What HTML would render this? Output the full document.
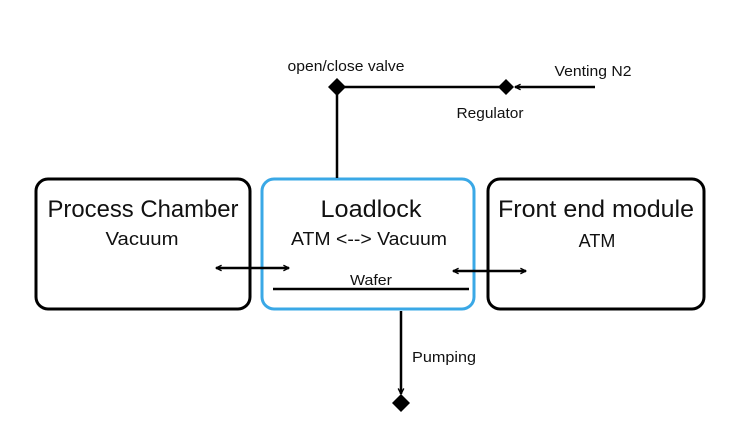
<!DOCTYPE html>
<html><head><style>body{margin:0;background:#fff}svg{display:block}text{font-family:"Liberation Sans",sans-serif;fill:#111}</style></head>
<body>
<svg width="740" height="428" viewBox="0 0 740 428" xmlns="http://www.w3.org/2000/svg">
<defs>
<marker id="a" viewBox="0 0 10 10" refX="9" refY="5" markerWidth="7" markerHeight="7" orient="auto-start-reverse" markerUnits="userSpaceOnUse">
<path d="M1,1 L9,5 L1,9" fill="none" stroke="#000" stroke-width="2"/></marker>
</defs>
<g fill="none" stroke-width="3">
<rect x="36" y="179" width="214" height="130" rx="12" stroke="#000"/>
<rect x="262" y="179" width="212" height="130" rx="12" stroke="#3aa8e6"/>
<rect x="488" y="179" width="216" height="130" rx="12" stroke="#000"/>
</g>
<g stroke="#000" stroke-width="2.5" fill="none">
<line x1="337" y1="87" x2="337" y2="178"/>
<line x1="337" y1="87" x2="506" y2="87"/>
<line x1="595" y1="87" x2="515" y2="87" marker-end="url(#a)"/>
<line x1="273" y1="289" x2="469" y2="289"/>
<line x1="216" y1="268" x2="289" y2="268" marker-start="url(#a)" marker-end="url(#a)"/>
<line x1="453" y1="271" x2="526" y2="271" marker-start="url(#a)" marker-end="url(#a)"/>
<line x1="401" y1="311" x2="401" y2="394" marker-end="url(#a)"/>
</g>
<g fill="#000">
<polygon points="337,78 346,87 337,96 328,87"/>
<polygon points="506,79 514,87 506,95 498,87"/>
<polygon points="401,394 410,403 401,412 392,403"/>
</g>
<g text-anchor="middle">
<text x="143" y="217" font-size="24" textLength="191" lengthAdjust="spacingAndGlyphs">Process Chamber</text>
<text x="142" y="245" font-size="18" textLength="73" lengthAdjust="spacingAndGlyphs">Vacuum</text>
<text x="371" y="217" font-size="24" textLength="101" lengthAdjust="spacingAndGlyphs">Loadlock</text>
<text x="369" y="245" font-size="18" textLength="156" lengthAdjust="spacingAndGlyphs">ATM &lt;--&gt; Vacuum</text>
<text x="596" y="217" font-size="24" textLength="196" lengthAdjust="spacingAndGlyphs">Front end module</text>
<text x="597" y="247" font-size="18">ATM</text>
<text x="371" y="285" font-size="15" textLength="42" lengthAdjust="spacingAndGlyphs">Wafer</text>
<text x="346" y="71" font-size="15" textLength="117" lengthAdjust="spacingAndGlyphs">open/close valve</text>
<text x="593" y="76" font-size="15" textLength="77" lengthAdjust="spacingAndGlyphs">Venting N2</text>
<text x="490" y="118" font-size="15" textLength="67" lengthAdjust="spacingAndGlyphs">Regulator</text>
</g>
<text x="412" y="362" font-size="15" textLength="64" lengthAdjust="spacingAndGlyphs">Pumping</text>
</svg>
</body></html>
